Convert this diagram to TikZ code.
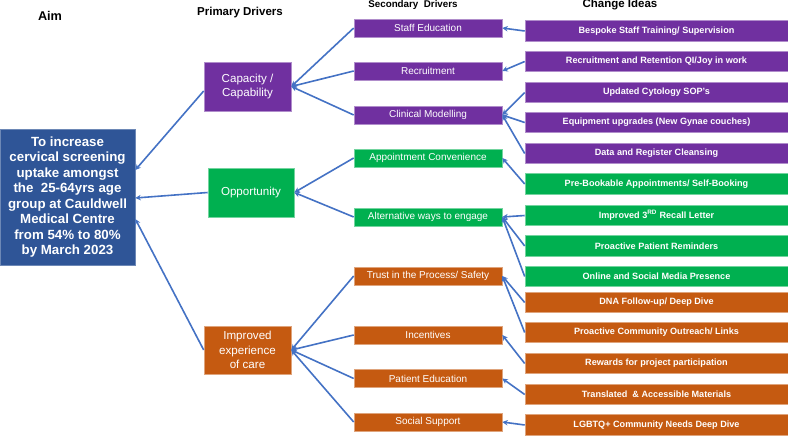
\documentclass[tikz,border=0pt]{standalone}
\usepackage{fontspec}
\setmainfont{Liberation Sans}
\usetikzlibrary{arrows.meta}
\definecolor{cpurple}{HTML}{7030A0}
\definecolor{cgreen}{HTML}{00B050}
\definecolor{corange}{HTML}{C55A11}
\definecolor{caim}{HTML}{2F5597}
\definecolor{cline}{HTML}{4472C4}
\tikzset{
  box/.style={rectangle, inner sep=0pt, text=white, line width=0.6pt},
  pbox/.style={box, fill=#1, draw=#1!55!white},
  aimbox/.style={box, fill=caim, draw=caim!70!white, minimum width=135pt, minimum height=136pt, align=center, font=\bfseries\fontsize{13.3}{15.5}\selectfont},
  prim/.style={pbox=#1, minimum width=87pt, minimum height=49pt, align=center, font=\fontsize{11.6}{14.3}\selectfont},
  sec/.style={pbox=#1, minimum width=148pt, minimum height=18pt, font=\fontsize{10}{12}\selectfont},
  chg/.style={pbox=#1, minimum width=263pt, minimum height=20.5pt, font=\bfseries\fontsize{9.1}{11}\selectfont},
  head/.style={font=\bfseries\fontsize{#1}{#1}\selectfont, inner sep=0pt},
  conn/.style={draw=cline, line width=1.6pt, -{Stealth[length=5.5pt,width=5.5pt]}},
}
\begin{document}
\begin{tikzpicture}[x=1pt, y=-1pt]
\useasboundingbox (0,0) rectangle (788,436);
% headers
\node[head=12.7] (hAim) at (50,16) {Aim};
\node[head=11.5] (hPrim) at (240,13) {Primary Drivers};
\node[head=9.8] (hSec) at (413,5) {Secondary\ \ Drivers};
\node[head=11.5] (hChg) at (620,5) {Change Ideas};
% aim
\node[aimbox] (aim) at (67.5,197) {To increase\\cervical screening\\uptake amongst\\the\ \ 25-64yrs age\\group at Cauldwell\\Medical Centre\\from 54\% to 80\%\\by March 2023};
% primary
\node[prim=cpurple] (cap) at (247.5,86.5) {Capacity /\\Capability};
\node[prim=cgreen, minimum width=86pt] (opp) at (251,192.5) {Opportunity};
\node[prim=corange, minimum height=48pt] (imp) at (247.5,350) {Improved\\experience\\of care};
% secondary
\node[sec=cpurple] (s1) at (428,28) {Staff Education};
\node[sec=cpurple] (s2) at (428,71) {Recruitment};
\node[sec=cpurple] (s3) at (428,115) {Clinical Modelling};
\node[sec=cgreen] (s4) at (428,158) {Appointment Convenience};
\node[sec=cgreen] (s5) at (428,217) {Alternative ways to engage};
\node[sec=corange] (s6) at (428,276) {Trust in the Process/ Safety};
\node[sec=corange] (s7) at (428,335) {Incentives};
\node[sec=corange] (s8) at (428,378.5) {Patient Education};
\node[sec=corange] (s9) at (428,422) {Social Support};
% change ideas
\node[chg=cpurple] (c1) at (656.5,31) {Bespoke Staff Training/ Supervision};
\node[chg=cpurple] (c2) at (656.5,61.5) {Recruitment and Retention QI/Joy in work};
\node[chg=cpurple] (c3) at (656.5,92.5) {Updated Cytology SOP’s};
\node[chg=cpurple] (c4) at (656.5,122.5) {Equipment upgrades (New Gynae couches)};
\node[chg=cpurple] (c5) at (656.5,153.5) {Data and Register Cleansing};
\node[chg=cgreen] (c6) at (656.5,184) {Pre-Bookable Appointments/ Self-Booking};
\node[chg=cgreen] (c7) at (656.5,215.5) {Improved 3\textsuperscript{RD} Recall Letter};
\node[chg=cgreen] (c8) at (656.5,246) {Proactive Patient Reminders};
\node[chg=cgreen] (c9) at (656.5,276.5) {Online and Social Media Presence};
\node[chg=corange] (c10) at (656.5,302.5) {DNA Follow-up/ Deep Dive};
\node[chg=corange] (c11) at (656.5,332.5) {Proactive Community Outreach/ Links};
\node[chg=corange] (c12) at (656.5,363.5) {Rewards for project participation};
\node[chg=corange] (c13) at (656.5,394.5) {Translated\ \ \& Accessible Materials};
\node[chg=corange] (c14) at (656.5,425) {LGBTQ+ Community Needs Deep Dive};
% primary -> aim
\draw[conn] ([yshift=-4.5pt]cap.west) -- ([yshift=27pt]aim.east);
\draw[conn] (opp.west) -- ([yshift=-1pt]aim.east);
\draw[conn] (imp.west) -- ([yshift=-22pt]aim.east);
% secondary -> primary
\foreach \s in {s1,s2,s3} \draw[conn] (\s.west) -- (cap.east);
\foreach \s in {s4,s5} \draw[conn] (\s.west) -- (opp.east);
\foreach \s in {s6,s7,s8,s9} \draw[conn] (\s.west) -- (imp.east);
% change -> secondary
\draw[conn] (c1.west) -- (s1.east);
\draw[conn] (c2.west) -- (s2.east);
\foreach \c in {c3,c4,c5} \draw[conn] (\c.west) -- (s3.east);
\draw[conn] (c6.west) -- (s4.east);
\foreach \c in {c7,c8,c9} \draw[conn] (\c.west) -- (s5.east);
\foreach \c in {c10,c11} \draw[conn] (\c.west) -- (s6.east);
\draw[conn] (c12.west) -- (s7.east);
\draw[conn] (c13.west) -- (s8.east);
\draw[conn] (c14.west) -- (s9.east);
\end{tikzpicture}
\end{document}
